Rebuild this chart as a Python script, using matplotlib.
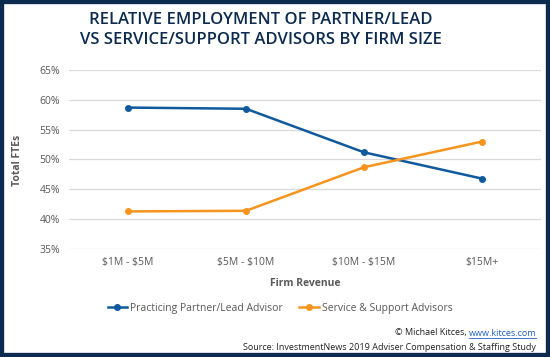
import matplotlib.pyplot as plt
import matplotlib.patches as mpatches
from matplotlib.ticker import PercentFormatter

# Data
categories = ['$1M - $5M', '$5M - $10M', '$10M - $15M', '$15M+']
partner_lead = [58.7, 58.5, 51.2, 46.8]
service_support = [41.3, 41.4, 48.7, 53.0]
y_ticks = [35, 40, 45, 50, 55, 60, 65]

BLUE = '#0f5a9c'
ORANGE = '#f7941d'
NAVY = '#0d2b4e'
GRAY = '#595959'

plt.rcParams['font.family'] = ['Open Sans', 'DejaVu Sans']
plt.rcParams['text.parse_math'] = False

fig = plt.figure(figsize=(5.5, 3.57), dpi=100)
ax = fig.add_axes([0.1255, 0.3025, 0.858, 0.5015])

x = range(len(categories))
ax.plot(x, partner_lead, color=BLUE, lw=1.8, marker='o', ms=4,
        label='Practicing Partner/Lead Advisor')
ax.plot(x, service_support, color=ORANGE, lw=1.8, marker='o', ms=4,
        label='Service & Support Advisors')

ax.set_xlim(-0.5, len(categories) - 0.5)
ax.set_ylim(35, 65)
ax.set_yticks(y_ticks)
ax.yaxis.set_major_formatter(PercentFormatter(decimals=0))
ax.set_xticks(list(x))
ax.set_xticklabels(categories)
ax.grid(axis='y', color='#d9d9d9', lw=0.9)
ax.set_axisbelow(True)
for s in ax.spines.values():
    s.set_visible(False)
ax.tick_params(length=0, labelsize=7.5, labelcolor=GRAY, pad=6.5)
ax.tick_params(axis='x', pad=6)

# axis titles placed in figure coords
fig.text(18 / 550, 1 - 160 / 357, 'Total FTEs', rotation=90, ha='center', va='center',
         fontsize=7.5, fontweight='bold', color=GRAY)
fig.text((69 + 541) / 2 / 550, 1 - 283 / 357, 'Firm Revenue',
         ha='center', va='center', fontsize=7.5, fontweight='bold', color=GRAY)

fig.text(261 / 550, 1 - 30 / 357,
         'RELATIVE EMPLOYMENT OF PARTNER/LEAD\nVS SERVICE/SUPPORT ADVISORS BY FIRM SIZE',
         ha='center', va='center', fontsize=12, fontweight='semibold', color=NAVY,
         linespacing=1.3)

ax.legend(loc='center', bbox_to_anchor=(280 / 550, 1 - 308 / 357),
          bbox_transform=fig.transFigure, ncol=2, frameon=False, fontsize=7.5,
          handlelength=1.9, handletextpad=0.25, columnspacing=1.6,
          labelcolor=GRAY, borderpad=0)

# copyright line: plain part + underlined link
y_copy = 1 - 333 / 357
link = fig.text(0.975, y_copy, 'www.kitces.com', ha='right', va='center',
                fontsize=6.5, color='#1f5fbf')
fig.canvas.draw()
x0 = link.get_window_extent().x0 / fig.bbox.width
fig.text(x0, y_copy, '© Michael Kitces, ', ha='right', va='center',
         fontsize=6.5, color='#222222')
fig.add_artist(plt.Line2D([x0, 0.975], [1 - 337.5 / 357] * 2, color='#1f5fbf', lw=0.6))
fig.text(0.975, 1 - 347 / 357,
         'Source: InvestmentNews 2019 Adviser Compensation & Staffing Study',
         ha='right', va='center', fontsize=6.5, color='#222222')

# dark frame around the image
fig.add_artist(mpatches.Rectangle((0, 0), 1, 1, transform=fig.transFigure,
                                  fill=False, edgecolor=NAVY, lw=6))

fig.savefig('out.png', dpi=100)
